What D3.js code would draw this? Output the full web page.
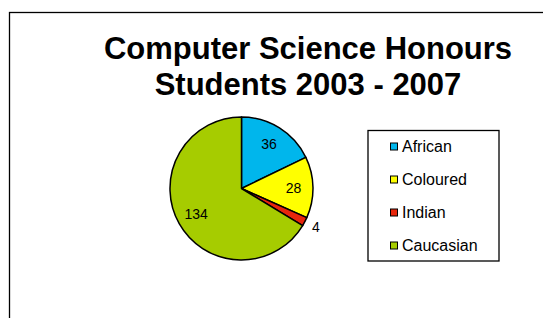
<!DOCTYPE html>
<html>
<head>
<meta charset="utf-8">
<script src="https://cdn.jsdelivr.net/npm/d3@7"></script>
<style>
  body { margin: 0; background: white; }
  svg { display: block; font-family: "Liberation Sans", Arial, sans-serif; }
</style>
</head>
<body>
<script>
// chart data
const groups = ["African", "Coloured", "Indian", "Caucasian"];
const students = [36, 28, 4, 134];
const sliceColours = ["#00b6ec", "#ffff00", "#e8260c", "#a6cc00"];
const titleLines = ["Computer Science Honours", "Students 2003 - 2007"];

const width = 543, height = 318;

const svg = d3.select("body")
    .append("svg")
    .attr("width", width)
    .attr("height", height);

// chart area border (runs off the right and bottom of the picture)
svg.append("rect")
    .attr("x", 9.5)
    .attr("y", 12.5)
    .attr("width", 600)
    .attr("height", 400)
    .attr("fill", "white")
    .attr("stroke", "#000")
    .attr("stroke-width", 1.3);

// title
svg.append("g")
    .selectAll("text")
    .data(titleLines)
    .enter()
    .append("text")
    .attr("x", 308)
    .attr("y", (d, i) => 59 + i * 36)
    .attr("text-anchor", "middle")
    .style("font-size", "31px")
    .style("font-weight", "bold")
    .text(d => d);

// pie
const cx = 241.5, cy = 188.5, radius = 71.5;
const total = d3.sum(students);
const colour = d3.scaleOrdinal().domain(groups).range(sliceColours);

const pie = d3.pie().sort(null).value(d => d.value);
const slices = pie(groups.map((g, i) => ({ name: g, value: students[i] })));

const arc = d3.arc().innerRadius(0).outerRadius(radius);
const labelArc = d3.arc().innerRadius(52).outerRadius(52);
const outerLabelArc = d3.arc().innerRadius(84).outerRadius(84);

const pieG = svg.append("g")
    .attr("transform", "translate(" + cx + "," + cy + ")");

pieG.selectAll("path")
    .data(slices)
    .enter()
    .append("path")
    .attr("d", arc)
    .attr("fill", d => colour(d.data.name))
    .attr("stroke", "#000")
    .attr("stroke-width", 1.5)
    .attr("stroke-linejoin", "round");

// value labels, small slices get theirs outside
pieG.selectAll("text")
    .data(slices)
    .enter()
    .append("text")
    .attr("transform", function (d) {
        const small = d.data.value / total < 0.05;
        const p = (small ? outerLabelArc : labelArc).centroid(d);
        return "translate(" + p[0] + "," + p[1] + ")";
    })
    .attr("text-anchor", "middle")
    .attr("dy", "0.36em")
    .style("font-size", "14px")
    .text(d => d.data.value);

// legend
const legend = svg.append("g");

legend.append("rect")
    .attr("x", 368)
    .attr("y", 130.5)
    .attr("width", 131)
    .attr("height", 130.5)
    .attr("fill", "white")
    .attr("stroke", "#000")
    .attr("stroke-width", 1.3);

const rowY = d3.scalePoint().domain(groups).range([146.5, 245.5]);

const items = legend.selectAll(".item")
    .data(groups)
    .enter()
    .append("g")
    .attr("class", "item")
    .attr("transform", d => "translate(390," + rowY(d) + ")");

items.append("rect")
    .attr("x", 0.5)
    .attr("y", -3.5)
    .attr("width", 7)
    .attr("height", 7)
    .attr("fill", d => colour(d))
    .attr("stroke", "#000")
    .attr("stroke-width", 1);

items.append("text")
    .attr("x", 12)
    .attr("dy", "0.36em")
    .style("font-size", "16px")
    .text(d => d);
</script>
</body>
</html>
